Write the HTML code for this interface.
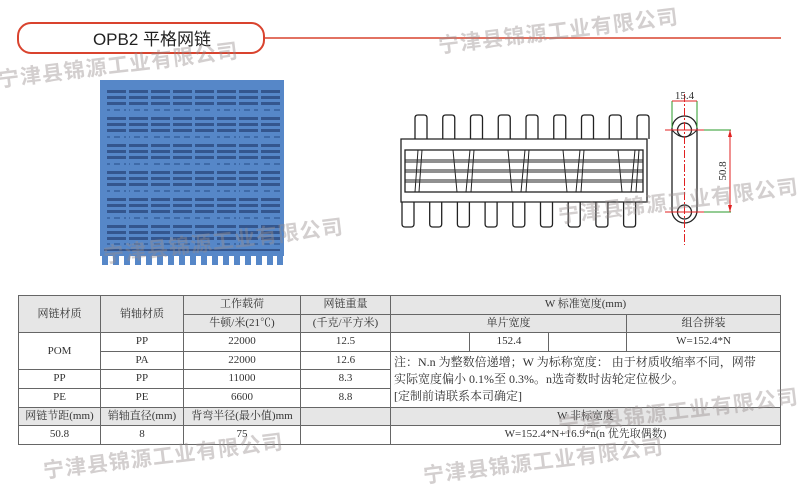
<!DOCTYPE html>
<html><head><meta charset="utf-8"><style>
body{margin:0;width:800px;height:493px;background:#fff;position:relative;overflow:hidden;font-family:"Liberation Serif","Noto Serif CJK SC",serif;}
svg{position:absolute;left:0;top:0}
table{position:absolute;left:18px;top:295px;border-collapse:collapse;width:762px;table-layout:fixed;font-size:11px;color:#333}
td{border:1px solid #666;text-align:center;padding:0;height:17.5px;line-height:17px;white-space:nowrap;overflow:hidden}
.g{background:#e6e6e6}
.note{text-align:left;line-height:17px;padding:2px 3px;font-size:12px;white-space:normal}
.wm{position:absolute;font-family:"Liberation Sans","Noto Sans CJK SC",sans-serif;font-weight:bold;font-size:21px;color:rgba(150,140,140,0.42);transform:rotate(-7deg);transform-origin:left bottom;white-space:nowrap;letter-spacing:1px;z-index:5}
</style></head><body>
<svg width="800" height="493" viewBox="0 0 800 493">
<rect x="18" y="23" width="246" height="30" rx="13" fill="#fff" stroke="#d9432e" stroke-width="2"/>
<line x1="264" y1="38" x2="781" y2="38" stroke="#d9432e" stroke-width="1.5"/>
<text x="152" y="45" text-anchor="middle" font-family="Liberation Sans,Noto Sans CJK SC,sans-serif" font-size="17" fill="#222">OPB2 平格网链</text>
<rect x="100" y="80" width="184" height="183" fill="#5687c8"/>
<g fill="#34568e">
<rect x="104" y="90" width="176" height="3"/><rect x="104" y="96" width="176" height="3"/><rect x="104" y="102" width="176" height="3"/>
<rect x="104" y="117" width="176" height="3"/><rect x="104" y="123" width="176" height="3"/><rect x="104" y="129" width="176" height="3"/>
<rect x="104" y="144" width="176" height="3"/><rect x="104" y="150" width="176" height="3"/><rect x="104" y="156" width="176" height="3"/>
<rect x="104" y="171" width="176" height="3"/><rect x="104" y="177" width="176" height="3"/><rect x="104" y="183" width="176" height="3"/>
<rect x="104" y="198" width="176" height="3"/><rect x="104" y="204" width="176" height="3"/><rect x="104" y="210" width="176" height="3"/>
<rect x="104" y="225" width="176" height="3"/><rect x="104" y="231" width="176" height="3"/><rect x="104" y="237" width="176" height="3"/>
<rect x="104" y="249" width="176" height="2"/>
</g>
<g stroke="#3e6aa8" stroke-width="2" stroke-dasharray="6 4">
<line x1="104" y1="110" x2="280" y2="110"/><line x1="104" y1="137" x2="280" y2="137"/><line x1="104" y1="164" x2="280" y2="164"/><line x1="104" y1="191" x2="280" y2="191"/><line x1="104" y1="218" x2="280" y2="218"/><line x1="104" y1="244" x2="280" y2="244"/>
</g>
<g fill="#5687c8"><rect x="104" y="86" width="3" height="160"/><rect x="126" y="86" width="3" height="160"/><rect x="148" y="86" width="3" height="160"/><rect x="170" y="86" width="3" height="160"/><rect x="192" y="86" width="3" height="160"/><rect x="214" y="86" width="3" height="160"/><rect x="236" y="86" width="3" height="160"/><rect x="258" y="86" width="3" height="160"/></g>
<g fill="#fff"><rect x="100" y="256" width="184" height="10"/></g>
<g fill="#5687c8">
<rect x="102" y="256" width="6" height="9"/><rect x="113" y="256" width="6" height="9"/><rect x="124" y="256" width="6" height="9"/><rect x="135" y="256" width="6" height="9"/><rect x="146" y="256" width="6" height="9"/><rect x="157" y="256" width="6" height="9"/><rect x="168" y="256" width="6" height="9"/><rect x="179" y="256" width="6" height="9"/><rect x="190" y="256" width="6" height="9"/><rect x="201" y="256" width="6" height="9"/><rect x="212" y="256" width="6" height="9"/><rect x="223" y="256" width="6" height="9"/><rect x="234" y="256" width="6" height="9"/><rect x="245" y="256" width="6" height="9"/><rect x="256" y="256" width="6" height="9"/><rect x="267" y="256" width="6" height="9"/><rect x="277" y="256" width="6" height="9"/>
</g>
<g fill="none" stroke="#222" stroke-width="1.3">
<path d="M401 139 V202 H647 V139 Z"/>
<g id="tt"><path d="M415 139 V118 q0 -3 3 -3 h6 q3 0 3 3 V139"/></g>
<use href="#tt" x="27.75"/><use href="#tt" x="55.5"/><use href="#tt" x="83.25"/><use href="#tt" x="111"/><use href="#tt" x="138.75"/><use href="#tt" x="166.5"/><use href="#tt" x="194.25"/><use href="#tt" x="222"/>
<g id="bt"><path d="M402 202 V224 q0 3 3 3 h6 q3 0 3 -3 V202"/></g>
<use href="#bt" x="27.7"/><use href="#bt" x="55.4"/><use href="#bt" x="83.1"/><use href="#bt" x="110.8"/><use href="#bt" x="138.5"/><use href="#bt" x="166.2"/><use href="#bt" x="193.9"/><use href="#bt" x="221.6"/>
<rect x="405" y="150" width="238" height="42"/>
<g stroke-width="1">
<line x1="405" y1="160" x2="643" y2="160"/><line x1="405" y1="162" x2="643" y2="162"/>
<line x1="405" y1="170" x2="643" y2="170"/><line x1="405" y1="172" x2="643" y2="172"/>
<line x1="405" y1="180" x2="643" y2="180"/><line x1="405" y1="182" x2="643" y2="182"/>
<path d="M418 150 l-3 42 M422 150 l-3 42"/>
<path d="M453 150 l4 42 M470 150 l-4 42 M474 150 l-3 42"/>
<path d="M508 150 l4 42 M525 150 l-4 42 M529 150 l-3 42"/>
<path d="M563 150 l4 42 M580 150 l-4 42 M584 150 l-3 42"/>
<path d="M618 150 l4 42 M635 150 l-4 42 M639 150 l-3 42"/>
</g>
<rect x="672" y="116" width="25" height="107" rx="12.5"/>
<circle cx="684.5" cy="130" r="7"/><circle cx="684.5" cy="212" r="7"/>
<path d="M672 130 q12 14 25 0" stroke-width="1"/>
</g>
<g stroke="#2a9a2a" stroke-width="1" fill="none">
<line x1="672" y1="101" x2="672" y2="128"/><line x1="697" y1="101" x2="697" y2="128"/>
<line x1="684" y1="130" x2="731" y2="130"/><line x1="684" y1="212" x2="731" y2="212"/>
</g>
<g stroke="#e02020" stroke-width="1" fill="none">
<line x1="672" y1="101" x2="697" y2="101"/>
<line x1="684.5" y1="94" x2="684.5" y2="245" stroke-dasharray="8 2 2 2"/>
<line x1="665" y1="130" x2="704" y2="130"/><line x1="665" y1="212" x2="704" y2="212"/>
<line x1="730" y1="130" x2="730" y2="212"/>
</g>
<path d="M730 130 l-2 7 h4z M730 212 l-2 -7 h4z" fill="#e02020"/>
<text x="684.5" y="99" text-anchor="middle" font-size="11" fill="#333">15.4</text>
<text x="0" y="0" font-size="11" fill="#333" transform="translate(726 171) rotate(-90)" text-anchor="middle">50.8</text>
</svg>
<table>
<colgroup><col style="width:82px"><col style="width:83px"><col style="width:117px"><col style="width:90px"><col style="width:79px"><col style="width:79px"><col style="width:78px"><col style="width:154px"></colgroup>
<tr><td class="g" rowspan="2">网链材质</td><td class="g" rowspan="2">销轴材质</td><td class="g">工作载荷</td><td class="g">网链重量</td><td class="g" colspan="4">W 标准宽度(mm)</td></tr>
<tr><td class="g">牛顿/米(21℃)</td><td class="g">(千克/平方米)</td><td class="g" colspan="3">单片宽度</td><td class="g">组合拼装</td></tr>
<tr><td rowspan="2">POM</td><td>PP</td><td>22000</td><td>12.5</td><td></td><td>152.4</td><td></td><td>W=152.4*N</td></tr>
<tr><td>PA</td><td>22000</td><td>12.6</td><td class="note" colspan="4" rowspan="3">注：N.n 为整数倍递增；W 为标称宽度： 由于材质收缩率不同，网带<br>实际宽度偏小 0.1%至 0.3%。n选奇数时齿轮定位极少。<br>[定制前请联系本司确定]</td></tr>
<tr><td>PP</td><td>PP</td><td>11000</td><td>8.3</td></tr>
<tr><td>PE</td><td>PE</td><td>6600</td><td>8.8</td></tr>
<tr><td class="g">网链节距(mm)</td><td class="g">销轴直径(mm)</td><td class="g">背弯半径(最小值)mm</td><td class="g"></td><td class="g" colspan="4">W 非标宽度</td></tr>
<tr><td>50.8</td><td>8</td><td>75</td><td></td><td colspan="4">W=152.4*N+16.9*n(n 优先取偶数)</td></tr>
</table>
<div class="wm" style="left:440px;top:30px">宁津县锦源工业有限公司</div>
<div class="wm" style="left:0px;top:64px">宁津县锦源工业有限公司</div>
<div class="wm" style="left:560px;top:200px">宁津县锦源工业有限公司</div>
<div class="wm" style="left:105px;top:240px">宁津县锦源工业有限公司</div>
<div class="wm" style="left:560px;top:410px">宁津县锦源工业有限公司</div>
<div class="wm" style="left:45px;top:455px">宁津县锦源工业有限公司</div>
<div class="wm" style="left:425px;top:460px">宁津县锦源工业有限公司</div>
</body></html>
